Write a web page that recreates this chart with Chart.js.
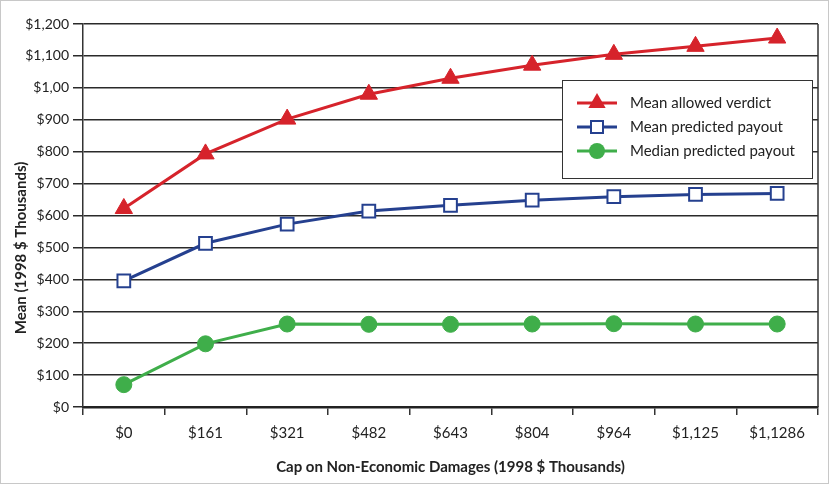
<!DOCTYPE html>
<html>
<head>
<meta charset="utf-8">
<script src="https://cdn.jsdelivr.net/npm/chart.js@4.4.1/dist/chart.umd.min.js"></script>
<style>
  html, body { margin: 0; padding: 0; background: #fff; }
  #wrap { width: 829px; height: 484px; }
</style>
</head>
<body>
<div id="wrap"><canvas id="capChart" width="829" height="484"></canvas></div>
<script>
const categories = ['$0', '$161', '$321', '$482', '$643', '$804', '$964', '$1,125', '$1,1286'];
const meanAllowedVerdict = [622, 793, 902, 980, 1030, 1071, 1105, 1130, 1156];
const meanPredictedPayout = [395, 513, 573, 614, 632, 648, 659, 666, 669];
const medianPredictedPayout = [70, 198, 260, 259, 259, 260, 261, 260, 260];
const yTickLabels = ['$0', '$100', '$200', '$300', '$400', '$500', '$600', '$700', '$800', '$900', '$1,00', '$1,100', '$1,200'];

const seriesNames = ['Mean allowed verdict', 'Mean predicted payout', 'Median predicted payout'];
const yTitle = 'Mean (1998 $ Thousands)';
const RED = '#d6232b', BLUE = '#25408f', GREEN = '#3fae4a';
const FONT = 'Lato';

// legend box, frame, right border line and y title
const extras = {
  id: 'extras',
  afterDraw(chart) {
    const ctx = chart.ctx;
    const a = chart.chartArea;
    ctx.save();
    // outer frame
    ctx.strokeStyle = '#c8c8c8';
    ctx.lineWidth = 1;
    ctx.strokeRect(0.5, 0.5, chart.width - 1, chart.height - 1);
    // right border
    ctx.strokeStyle = '#333';
    ctx.lineWidth = 1.5;
    ctx.beginPath();
    ctx.moveTo(a.right, a.top);
    ctx.lineTo(a.right, a.bottom);
    ctx.stroke();

    // y title (sits a bit lower than the axis middle in the original)
    ctx.save();
    ctx.translate(21, 248);
    ctx.rotate(-Math.PI / 2);
    ctx.font = 'bold 15px ' + FONT;
    ctx.fillStyle = '#222';
    ctx.textAlign = 'center';
    ctx.textBaseline = 'middle';
    ctx.fillText(yTitle, 0, 0);
    ctx.restore();

    // legend
    const bx = 562, by = 80, bw = 250, bh = 98;
    ctx.fillStyle = '#fff';
    ctx.fillRect(bx, by, bw, bh);
    ctx.strokeStyle = '#333';
    ctx.lineWidth = 1;
    ctx.strokeRect(bx + 0.5, by + 0.5, bw, bh);
    const rows = [103, 127, 151];
    ctx.font = '15px ' + FONT;
    ctx.textBaseline = 'middle';
    chart.data.datasets.forEach((ds, i) => {
      const y = rows[i];
      ctx.strokeStyle = ds.borderColor;
      ctx.lineWidth = 3;
      ctx.beginPath();
      ctx.moveTo(577, y);
      ctx.lineTo(617, y);
      ctx.stroke();
      const cx = 597;
      if (ds.pointStyle === 'triangle') {
        const r = 10;
        ctx.fillStyle = ds.borderColor;
        ctx.beginPath();
        ctx.moveTo(cx, y - r);
        ctx.lineTo(cx + r * 0.866, y + r * 0.5);
        ctx.lineTo(cx - r * 0.866, y + r * 0.5);
        ctx.closePath();
        ctx.fill();
      } else if (ds.pointStyle === 'rect') {
        ctx.fillStyle = '#fff';
        ctx.fillRect(cx - 6, y - 6, 12, 12);
        ctx.lineWidth = 2;
        ctx.strokeRect(cx - 6, y - 6, 12, 12);
      } else {
        ctx.fillStyle = ds.borderColor;
        ctx.beginPath();
        ctx.arc(cx, y, 8, 0, Math.PI * 2);
        ctx.fill();
      }
      ctx.fillStyle = '#222';
      ctx.fillText(ds.label, 630, y);
    });
    ctx.restore();
  }
};

new Chart(document.getElementById('capChart'), {
  type: 'line',
  data: {
    labels: categories,
    datasets: [
      {
        label: seriesNames[0],
        data: meanAllowedVerdict,
        borderColor: RED,
        backgroundColor: RED,
        borderWidth: 3,
        pointStyle: 'triangle',
        pointRadius: 10,
        pointBackgroundColor: RED,
        pointBorderColor: RED,
        pointBorderWidth: 1
      },
      {
        label: seriesNames[1],
        data: meanPredictedPayout,
        borderColor: BLUE,
        backgroundColor: '#fff',
        borderWidth: 3,
        pointStyle: 'rect',
        pointRadius: 9,
        pointBackgroundColor: '#fff',
        pointBorderColor: BLUE,
        pointBorderWidth: 2
      },
      {
        label: seriesNames[2],
        data: medianPredictedPayout,
        borderColor: GREEN,
        backgroundColor: GREEN,
        borderWidth: 3,
        pointStyle: 'circle',
        pointRadius: 8,
        pointBackgroundColor: GREEN,
        pointBorderColor: GREEN,
        pointBorderWidth: 1
      }
    ]
  },
  options: {
    responsive: false,
    animation: false,
    layout: { padding: { left: 10, right: 6, top: 24, bottom: 8 } },
    plugins: {
      legend: { display: false },
      tooltip: { enabled: false }
    },
    scales: {
      x: {
        offset: true,
        grid: { offset: true, drawOnChartArea: false, drawTicks: true, tickLength: 8, color: '#333', lineWidth: 1.5 },
        border: { display: true, color: '#222', width: 2.5 },
        ticks: { color: '#222', font: { family: FONT, size: 15 }, padding: 9, maxRotation: 0, autoSkip: false },
        title: {
          display: true,
          text: 'Cap on Non-Economic Damages (1998 $ Thousands)',
          color: '#222',
          font: { family: FONT, size: 15, weight: 'bold' },
          padding: { top: 11, bottom: 0 }
        },
        afterFit(s) { s.height = 69; }
      },
      y: {
        min: 0,
        max: 1200,
        ticks: {
          stepSize: 100,
          color: '#222',
          font: { family: FONT, size: 14 },
          padding: 4,
          callback: (v, i) => yTickLabels[i]
        },
        grid: { color: '#2a2a2a', lineWidth: 1.5, drawTicks: true, tickLength: 10 },
        border: { display: true, color: '#333', width: 1.5 },
        afterFit(s) { s.width = 73; }
      }
    }
  },
  plugins: [extras]
});
</script>
</body>
</html>
